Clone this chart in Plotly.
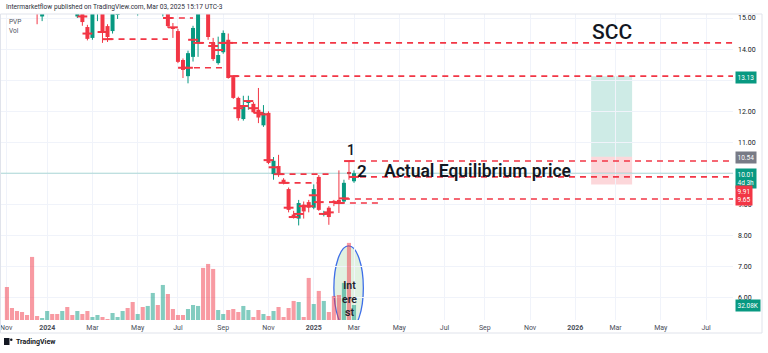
import plotly.graph_objects as go
import pandas as pd

# ---------------- data (weekly bars, PVP) ----------------
dates = pd.date_range("2023-11-06", periods=70, freq="7D")
opens = [16.3, 15.8, 15.5, 15.6, 15.5, 15.9, 15.5, 15.05, 15.4, 15.9,
         15.7, 15.5, 15.9, 15.5, 15.05, 15.5, 14.71, 14.36, 15.3, 15.6,
         14.74, 14.58, 15.1, 15.6, 16.1, 15.7, 15.4, 15.7, 15.4, 15.9,
         16.4, 15.6, 16.5, 14.71, 14.58, 13.65, 13.13, 13.75, 14.2, 16.0,
         15.3, 14.2, 13.55, 13.9, 14.3, 13.1, 12.43, 11.75, 12.28, 12.24,
         12.05, 11.55, 11.95, 9.98, 10.24, 9.8, 9.5, 8.68, 8.55, 9.0,
         9.08, 8.9, 9.89, 8.68, 8.9, 9.1, 9.15, 9.1, 10.05, 9.75]
highs = [16.5, 16.0, 15.9, 15.9, 15.7, 16.4, 15.7, 15.6, 16.0, 16.1,
         15.9, 16.0, 16.0, 15.7, 15.8, 15.6, 14.78, 15.4, 15.7, 15.7,
         14.8, 15.5, 15.7, 16.2, 16.3, 15.9, 15.8, 15.9, 16.0, 16.8,
         16.6, 16.8, 16.6, 14.84, 14.65, 13.7, 13.95, 14.75, 15.6, 16.3,
         15.5, 14.36, 14.4, 14.6, 14.5, 13.15, 12.47, 12.5, 12.5, 12.3,
         12.75, 12.2, 12.0, 10.53, 10.6, 9.85, 9.55, 8.8, 9.15, 9.1,
         9.15, 9.65, 9.95, 8.8, 8.95, 9.15, 10.1, 9.8, 10.4, 10.1]
lows = [15.6, 15.4, 15.3, 15.35, 15.3, 15.3, 14.8, 14.9, 15.3, 15.5,
        15.4, 15.4, 15.3, 15.2, 15.0, 14.75, 14.28, 14.3, 14.9, 14.2,
        14.23, 14.5, 14.97, 15.5, 15.6, 15.2, 15.08, 15.3, 15.3, 15.8,
        15.5, 15.05, 14.68, 14.36, 13.55, 13.07, 12.9, 13.6, 13.75, 15.2,
        14.3, 13.62, 13.5, 13.85, 13.05, 12.4, 11.7, 11.7, 12.05, 11.95,
        11.62, 11.5, 10.3, 9.8, 9.89, 9.65, 8.75, 8.55, 8.33, 8.55,
        8.75, 8.85, 8.8, 8.62, 8.35, 8.95, 8.73, 9.05, 9.8, 9.7]
closes = [15.8, 15.5, 15.4, 15.45, 15.4, 15.5, 15.3, 15.4, 15.9, 15.7,
          15.5, 15.9, 15.4, 15.3, 15.6, 14.87, 14.33, 15.3, 15.6, 14.55,
          14.39, 15.4, 15.6, 16.1, 15.7, 15.4, 15.7, 15.4, 15.9, 16.6,
          15.6, 16.5, 14.74, 14.65, 13.59, 13.33, 13.87, 14.68, 15.5, 15.3,
          14.39, 13.68, 13.81, 14.52, 13.07, 12.43, 11.78, 12.14, 12.33, 11.97,
          11.8, 11.95, 10.34, 10.41, 9.95, 9.7, 8.83, 8.62, 9.05, 8.78,
          8.9, 9.5, 8.83, 8.73, 8.6, 9.08, 9.05, 9.7, 9.98, 10.01]
volume_k = [70.6, 25.7, 19.3, 17.1, 10.7, 134.8, 8.6, 4.3, 19.3, 12.8,
            12.8, 19.3, 27.8, 10.7, 19.3, 12.8, 19.3, 6.4, 10.7, 6.4,
            2.1, 15.0, 6.4, 19.3, 25.7, 38.5, 12.8, 27.8, 30.0, 57.8,
            32.1, 74.9, 55.6, 23.5, 10.7, 10.7, 23.5, 32.1, 30.0, 111.3,
            119.8, 109.1, 21.4, 12.8, 21.4, 23.5, 17.1, 30.0, 21.4, 6.4,
            21.4, 12.8, 8.6, 19.3, 27.8, 6.4, 25.7, 40.7, 38.5, 6.4,
            89.9, 34.2, 62.1, 40.7, 17.1, 51.4, 53.5, 79.2, 164.8, 32.08]
pvp = [None, None, None, None, None, None, None, None, None, None,
       None, None, None, None, None, 15.05, 14.5, None, None, 14.55,
       14.32, None, None, None, None, None, None, None, None, None,
       None, None, 15.0, 14.7, None, 13.4, 13.4, 14.3, 14.2, None,
       None, 14.1, 13.97, 14.2, 14.2, 13.13, 12.1, 12.17, 12.33, 12.1,
       11.95, 11.9, 10.43, 10.2, 9.98, 9.7, 8.9, 8.6, 8.7, 8.95,
       8.95, 9.3, 9.08, 8.7, 8.75, 9.08, 9.05, 9.2, 10.4, 9.89]

# naked PVP levels: price, start bar, end bar (None = runs to right edge)
level_price = [14.32, 15.0, 14.2, 13.4, 13.13, 9.98, 9.7, 10.4, 9.89, 9.18, 9.05]
level_start = [20, 32, 38, 35, 45, 54, 55, 68, 68, 67, 66]
level_end = [32, 37, None, 43, None, 64, 62, None, None, None, "2025-04-07"]

# position tool
box_start, box_end = "2026-01-27", "2026-03-25"
box_target, box_entry, box_stop = 13.13, 10.54, 9.65
last_price = 10.01

price_ticks = [6, 7, 8, 9, 10, 11, 12, 13, 14, 15]
price_tick_text = ["6.00", "7.00", "8.00", "9.00", "", "11.00", "12.00", "13.00", "14.00", "15.00"]
tick_dates = ["2023-11-05", "2024-01-01", "2024-03-04", "2024-05-06", "2024-07-01",
              "2024-09-02", "2024-11-04", "2025-01-06", "2025-03-03", "2025-05-05",
              "2025-07-07", "2025-09-01", "2025-11-03", "2026-01-05", "2026-03-02",
              "2026-05-04", "2026-07-06"]
tick_text = ["Nov", "<b>2024</b>", "Mar", "May", "Jul", "Sep", "Nov", "<b>2025</b>", "Mar",
             "May", "Jul", "Sep", "Nov", "<b>2026</b>", "Mar", "May", "Jul"]

# ---------------- styling / layout helpers ----------------
UP, DN = "#089981", "#f23645"
W, H = 768, 353
ML, MR, MT, MB = 0, 35, 14, 33
PW, PH = W - ML - MR, H - MT - MB
PPD = 0.7186  # pixels per day
last = dates[-1]
x_left = last - pd.Timedelta(days=354 / PPD)
x_right = last + pd.Timedelta(days=(PW - 354) / PPD)
DAY_MS = 86400000


def px(x):
    return x / PW


def py(y):
    return (MT + PH - y) / PH


up = [c >= o for o, c in zip(opens, closes)]
fig = go.Figure()

# volume (bottom, overlay axis y)
fig.add_trace(go.Bar(
    x=dates, y=volume_k, yaxis="y",
    marker=dict(color=["rgba(8,153,129,0.5)" if u else "rgba(242,54,69,0.5)" for u in up],
                line=dict(width=0)),
    width=[4.1 / PPD * DAY_MS] * len(dates), hoverinfo="skip", showlegend=False))

# wicks
for flag, col in ((True, UP), (False, DN)):
    xs, ys = [], []
    for d, h, l, u in zip(dates, highs, lows, up):
        if u == flag:
            xs += [d, d, None]
            ys += [l, h, None]
    fig.add_trace(go.Scatter(x=xs, y=ys, yaxis="y2", mode="lines",
                             line=dict(color=col, width=1), hoverinfo="skip", showlegend=False))

# bodies
fig.add_trace(go.Bar(
    x=dates, yaxis="y2",
    base=[min(o, c) for o, c in zip(opens, closes)],
    y=[max(abs(c - o), 0.04) for o, c in zip(opens, closes)],
    marker=dict(color=[UP if u else DN for u in up], line=dict(width=0)),
    width=[4.0 / PPD * DAY_MS] * len(dates), hoverinfo="skip", showlegend=False))

# PVP marks
fig.add_trace(go.Scatter(
    x=[d for d, p in zip(dates, pvp) if p is not None],
    y=[p for p in pvp if p is not None], yaxis="y2", mode="markers",
    marker=dict(symbol="line-ew", size=7, line=dict(width=2, color=DN)),
    hoverinfo="skip", showlegend=False))

shapes = []
# position box
shapes.append(dict(type="rect", xref="x", yref="y2", x0=box_start, x1=box_end,
                   y0=box_entry, y1=box_target, fillcolor="rgba(8,153,129,0.2)",
                   line=dict(width=0), layer="below"))
shapes.append(dict(type="rect", xref="x", yref="y2", x0=box_start, x1=box_end,
                   y0=box_stop, y1=box_entry, fillcolor="rgba(242,54,69,0.2)",
                   line=dict(width=0), layer="below"))
# last price line
shapes.append(dict(type="line", xref="x", yref="y2", x0=x_left, x1=x_right,
                   y0=last_price, y1=last_price, line=dict(color="rgba(8,153,129,0.3)", width=1)))
# naked PVP levels
for p, s, e in zip(level_price, level_start, level_end):
    if e is None:
        x1 = x_right
    elif isinstance(e, str):
        x1 = e
    else:
        x1 = dates[e]
    shapes.append(dict(type="line", xref="x", yref="y2", x0=dates[s], x1=x1, y0=p, y1=p,
                       line=dict(color=DN, width=1.6, dash="6px,5px")))
# interest ellipse
shapes.append(dict(type="circle", xref="x", yref="y2", x0="2025-02-03", x1="2025-03-16",
                   y0=4.97, y1=7.67, fillcolor="rgba(200,230,201,0.55)",
                   line=dict(color="#3d6ee8", width=1.3), layer="below"))
# outer frame
shapes.append(dict(type="rect", xref="paper", yref="paper", x0=px(0.5), x1=px(762),
                   y0=py(333), y1=py(14), line=dict(color="#e0e3eb", width=1)))
# TradingView logo glyph
shapes.append(dict(type="rect", xref="paper", yref="paper", x0=px(4), x1=px(9.5),
                   y0=py(345), y1=py(338), fillcolor="#131722", line=dict(width=0)))
shapes.append(dict(type="circle", xref="paper", yref="paper", x0=px(10), x1=px(12.5),
                   y0=py(341), y1=py(338.5), fillcolor="#131722", line=dict(width=0)))

ann = []


def text(x, y, s, size, color="#131722", anchor="left", weight="normal", **kw):
    ann.append(dict(xref="paper", yref="paper", x=px(x), y=py(y), text=s, showarrow=False,
                    xanchor=anchor, yanchor="middle",
                    font=dict(size=size, color=color, family="Roboto", weight=weight), **kw))


text(4, 7, "Intermarketflow published on TradingView.com, Mar 03, 2025 15:17 UTC-3", 6.6, "#2a2e39")
text(7, 22, "PVP", 6.5, "#50535e")
text(7, 31, "Vol", 6.5, "#50535e")
text(612, 32, "SCC", 21, "#131722", "center", 500)
text(351, 150, "1", 14, "#131722", "center", 500)
text(362, 171, "2", 17, "#131722", "center", 600)
text(382, 171, "Actual Equilibrium price", 17.5, "#131722", "left", 600)
text(349.5, 299, "Int<br>ere<br>st", 10.5, "#1e222d", "center", 600)
text(14, 342, "<b>TradingView</b>", 7, "#131722")


def price_box(y, s, bg):
    text(735, y, s, 6.5, "#ffffff", "left", bgcolor=bg, borderpad=1.5, align="left")


price_box(77, "13.13", UP)
price_box(157, "10.54", "#787b86")
price_box(178, "10.01<br>4d 3h", UP)
price_box(195, "9.91<br>9.65", DN)
price_box(305, "32.08K", UP)

fig.update_layout(
    width=W, height=H, margin=dict(l=ML, r=MR, t=MT, b=MB),
    paper_bgcolor="white", plot_bgcolor="white", barmode="overlay",
    showlegend=False, shapes=shapes, annotations=ann,
    xaxis=dict(type="date", range=[x_left, x_right], tickvals=tick_dates, ticktext=tick_text,
               showgrid=True, gridcolor="#f0f3fa", gridwidth=1, zeroline=False,
               ticks="", ticklabelstandoff=2, ticklabeloverflow="allow",
               tickfont=dict(size=7, color="#4a4e59", family="Roboto"), showline=False),
    yaxis=dict(range=[0, 654], visible=False, fixedrange=True),
    yaxis2=dict(overlaying="y", side="right", range=[5.289, 15.129],
                tickvals=price_ticks, ticktext=price_tick_text,
                showgrid=True, gridcolor="#f0f3fa", zeroline=False, ticks="",
                ticklabelstandoff=4, tickfont=dict(size=7, color="#131722", family="Roboto"),
                showline=False),
)

fig.write_html("out.html")
